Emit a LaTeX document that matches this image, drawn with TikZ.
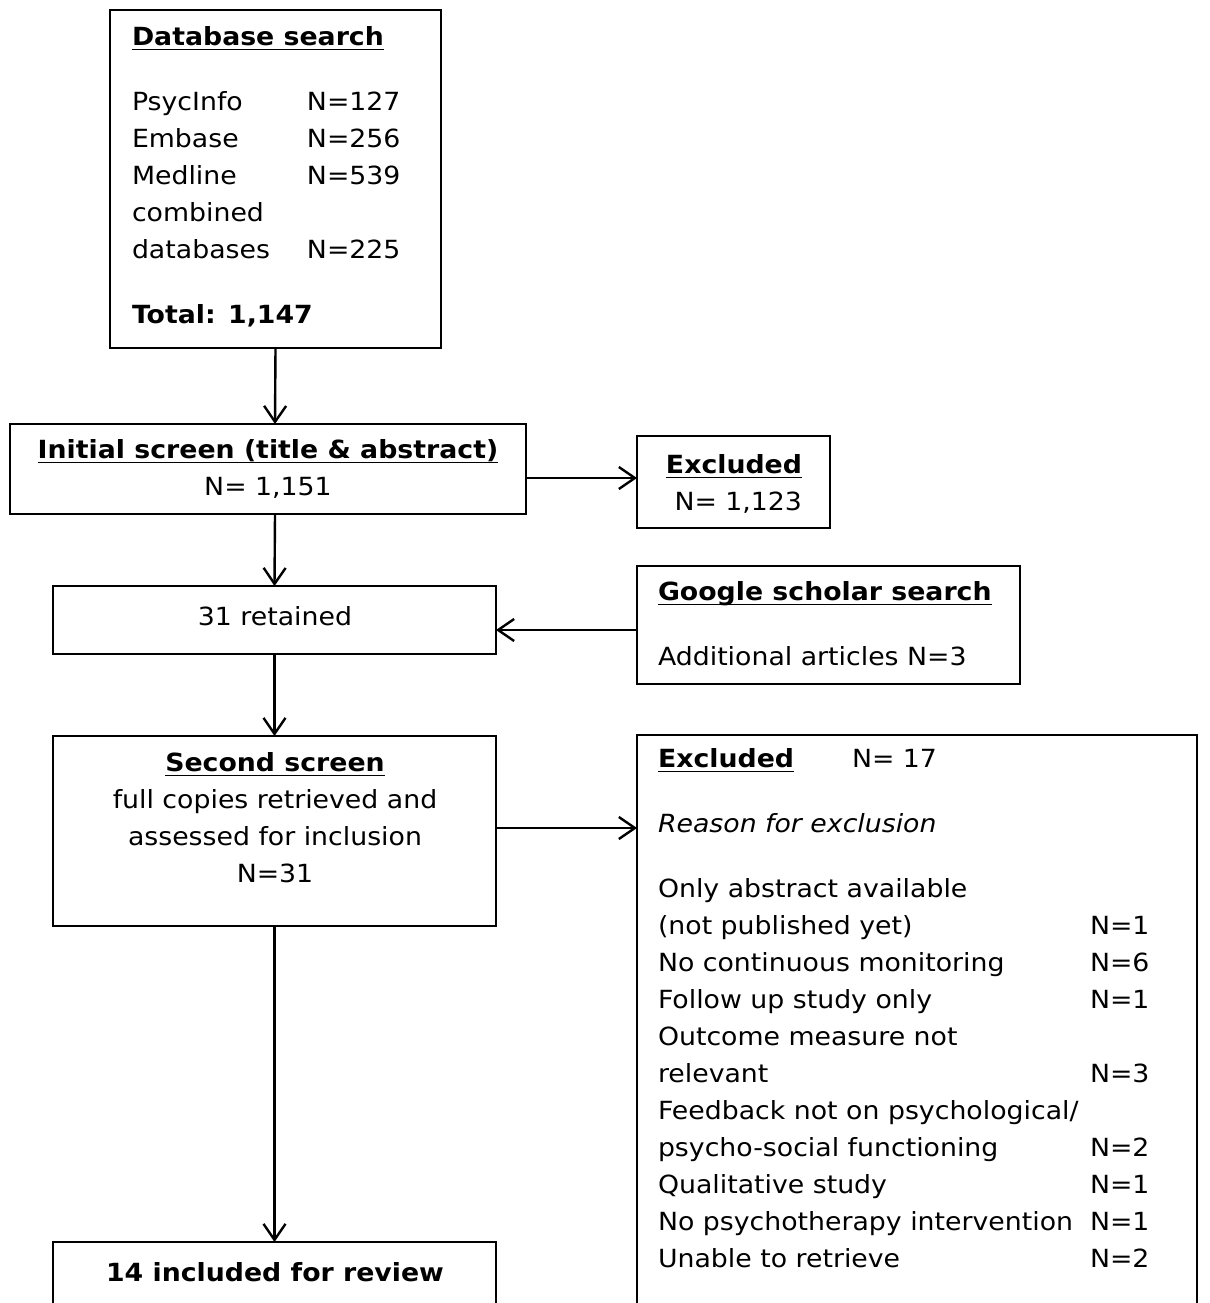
\documentclass[tikz,border=0pt]{standalone}
\usepackage{fontspec}
\setmainfont[FakeStretch=1.07]{DejaVu Sans}
\usetikzlibrary{arrows.meta}

\tikzset{
  box/.style={draw, line width=0.7pt, inner sep=0pt, outer sep=0pt, anchor=north west},
  txt/.style={inner sep=0pt, outer sep=0pt, font=\fontsize{12.5}{18.5}\selectfont},
  flow/.style={line width=1.2pt, -{Straight Barb[length=8pt,width=11pt]}}
}
\newlength{\hdw}
\newcommand{\hd}[1]{\settowidth{\hdw}{\textbf{#1}}\textbf{#1}\hspace{-\hdw}\rule[-2.2pt]{\hdw}{0.9pt}}

\begin{document}
\begin{tikzpicture}[x=0.5pt, y=-0.5pt]
\useasboundingbox (0,0) rectangle (1210,1303);
\clip (0,0) rectangle (1210,1303);

% boxes
\node[box, minimum width=165.5pt, minimum height=169pt] (db) at (110,10) {};
\node[box, minimum width=258pt, minimum height=45pt] (init) at (10,424) {};
\node[box, minimum width=96.5pt, minimum height=46pt] (exa) at (637,436) {};
\node[box, minimum width=221.5pt, minimum height=34pt] (ret) at (53,586) {};
\node[box, minimum width=191.5pt, minimum height=59pt] (gs) at (637,566) {};
\node[box, minimum width=221.5pt, minimum height=95pt] (scr) at (53,736) {};
\node[box, minimum width=280pt, minimum height=295pt] (exb) at (637,735) {};
\node[box, minimum width=221.5pt, minimum height=45pt] (inc) at (53,1242) {};

% texts
\node[txt, anchor=north west] (dbt) at (132,20) {%
\begin{tabular}{@{}p{87.5pt}@{}l@{}}
\multicolumn{2}{@{}l@{}}{\hd{Database search}}\\[14pt]
PsycInfo & N=127\\
Embase & N=256\\
Medline & N=539\\
combined & \\
databases & N=225\\[14pt]
\multicolumn{2}{@{}l@{}}{\textbf{Total: 1,147}}
\end{tabular}};

\node[txt, anchor=north] (initt) at (268,433) {%
\begin{tabular}{@{}c@{}}
\hd{Initial screen (title \& abstract)}\\
N= 1,151
\end{tabular}};

\node[txt, anchor=north] (exat) at (734,448) {%
\begin{tabular}{@{}c@{}}
\hd{Excluded}\\
\ N= 1,123
\end{tabular}};

\node[txt, anchor=north] (rett) at (275,600) {%
\begin{tabular}{@{}c@{}}
31 retained
\end{tabular}};

\node[txt, anchor=north west] (gst) at (658,575) {%
\begin{tabular}{@{}l@{}}
\hd{Google scholar search}\\[14pt]
Additional articles N=3
\end{tabular}};

\node[txt, anchor=north] (scrt) at (275,746) {%
\begin{tabular}{@{}c@{}}
\hd{Second screen}\\
full copies retrieved and\\
assessed for inclusion\\
N=31
\end{tabular}};

\node[txt, anchor=north west] (exbt) at (658,742) {%
\begin{tabular}{@{}p{216pt}@{}l@{}}
\multicolumn{2}{@{}l@{}}{\makebox[97pt][l]{\hd{Excluded}}N= 17}\\[14pt]
\multicolumn{2}{@{}l@{}}{\textit{Reason for exclusion}}\\[14pt]
Only abstract available & \\
(not published yet) & N=1\\
No continuous monitoring & N=6\\
Follow up study only & N=1\\
Outcome measure not & \\
relevant & N=3\\
Feedback not on psychological/ & \\
psycho-social functioning & N=2\\
Qualitative study & N=1\\
No psychotherapy intervention & N=1\\
Unable to retrieve & N=2
\end{tabular}};

\node[txt, anchor=north] (inct) at (275,1256) {%
\begin{tabular}{@{}c@{}}
\textbf{14 included for review}
\end{tabular}};

% arrows
\coordinate (ax) at (275,0);
\draw[flow] (db.south) -- (init.north -| ax);
\draw[flow] (init.south -| ax) -- (ret.north);
\draw[flow] (init.east |- 0,478) -- (exa.west |- 0,478);
\draw[flow] (gs.west |- 0,630) -- (ret.east |- 0,630);
\draw[flow] (ret.south) -- (scr.north);
\draw[flow] (scr.east |- 0,828) -- (exb.west |- 0,828);
\draw[flow] (scr.south) -- (inc.north);
\end{tikzpicture}
\end{document}
